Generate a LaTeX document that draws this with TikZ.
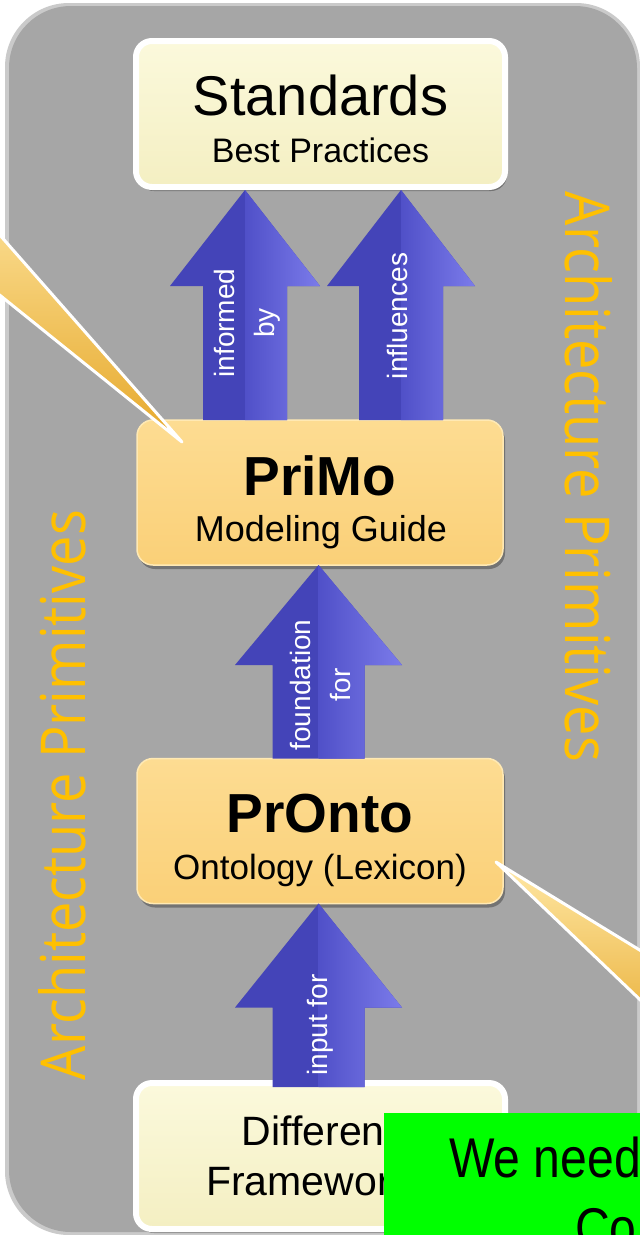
\documentclass[tikz,border=0pt]{standalone}
\usepackage{fontspec}
\usepackage{graphicx}
\newfontfamily\arial{Liberation Sans}
\newfontfamily\osans{Open Sans}
\newfontfamily\narrow[FakeStretch=0.86]{Liberation Sans}
\usetikzlibrary{calc,shadows}

\definecolor{panel}{HTML}{A6A6A6}
\definecolor{papertop}{HTML}{FBF9DC}
\definecolor{paperbot}{HTML}{F4EFC2}
\definecolor{goldtop}{HTML}{FDDC92}
\definecolor{goldbot}{HTML}{FAD078}
\definecolor{goldrim}{HTML}{FFE9B4}
\definecolor{bluebody}{HTML}{4444B8}
\definecolor{bluemid}{HTML}{5050C8}
\definecolor{bluelight}{HTML}{7B7BEA}
\definecolor{orangetext}{HTML}{FFC000}
\definecolor{wedgedark}{HTML}{E6A82A}
\definecolor{wedgelight}{HTML}{FFE8A6}
\definecolor{notegreen}{HTML}{00FF00}

% block arrow standing on node #1 and pointing at node #2
% #3 centre x, #4 half head width, #5 half shaft width, #6 head length, #7 overlap into #1
\newcommand\bluearrow[7]{%
  \fill[bluebody] let \p1=(#1.north), \p2=(#2.south) in
    ({#3pt-#5pt},{\y1-#7pt}) -- ({#3pt-#5pt},{\y2-#6pt}) -- ({#3pt-#4pt},{\y2-#6pt})
    -- ({#3pt},{\y2}) -- ({#3pt+#4pt},{\y2-#6pt}) -- ({#3pt+#5pt},{\y2-#6pt})
    -- ({#3pt+#5pt},{\y1-#7pt}) -- cycle;
  \shade[left color=bluemid, right color=bluelight] let \p1=(#1.north), \p2=(#2.south) in
    ({#3pt},{\y2}) -- ({#3pt+#4pt},{\y2-#6pt}) -- ({#3pt+#5pt},{\y2-#6pt})
    -- ({#3pt+#5pt},{\y1-#7pt}) -- ({#3pt},{\y1-#7pt}) -- cycle;
}

\tikzset{
  paperbox/.style={draw=white, line width=6pt, rounded corners=16pt,
    top color=papertop, bottom color=paperbot,
    minimum width=369pt, minimum height=146pt, outer sep=3pt, inner sep=0pt,
    drop shadow={shadow xshift=2pt, shadow yshift=-4pt, opacity=0.3, fill=black}},
  goldbox/.style={rounded corners=16pt, top color=goldtop, bottom color=goldbot,
    draw=goldrim, line width=1.5pt,
    minimum width=366pt, minimum height=145pt, outer sep=0pt, inner sep=0pt,
    drop shadow={shadow xshift=2pt, shadow yshift=-4pt, opacity=0.3, fill=black}},
  bigtitle/.style={anchor=base, inner sep=0pt, font=\arial\fontsize{56}{60}\selectfont},
  boldtitle/.style={anchor=base, inner sep=0pt, font=\arial\bfseries\fontsize{55}{60}\selectfont},
  subtitle/.style={anchor=base, inner sep=0pt, font=\arial\fontsize{#1}{#1}\selectfont},
  arrowlabel/.style={rotate=90, text=white, align=center, inner sep=0pt,
    font=\arial\fontsize{28}{40}\selectfont},
  sidetext/.style={text=orangetext, inner sep=0pt, font=\osans},
  wedge/.style={draw=white, line width=3pt, line join=round,
    top color=wedgelight, bottom color=wedgedark},
  notebox/.style={fill=notegreen, inner sep=0pt, anchor=north west,
    minimum width=300pt, minimum height=140pt},
  notetext/.style={anchor=base west, inner sep=0pt, font=\narrow\fontsize{56}{60}\selectfont}
}

\begin{document}
\begin{tikzpicture}[x=1pt, y=-1pt]
\useasboundingbox (0,0) rectangle (640,1235);
\clip (0,0) rectangle (640,1235);
\fill[white] (0,0) rectangle (640,1235);

% grey panel with a soft rim
\fill[panel!60, rounded corners=64pt] (5,3) rectangle (640,1235);
\fill[panel, rounded corners=62pt] (9,6) rectangle (637,1232);

% boxes
\node[paperbox] (std)    at (320.5,114)  {};
\node[goldbox]  (primo)  at (320,492.5)  {};
\node[goldbox]  (pronto) at (320,831)    {};
\node[paperbox] (diff)   at (320.5,1156) {};

% box texts
\node[bigtitle]      (stdA) at (320.5,115) {Standards};
\node[subtitle=34]   (stdB) at (320.5,162) {Best Practices};
\node[boldtitle]     (priA) at (320,495)   {PriMo};
\node[subtitle=36]   (priB) at (321,541)   {Modeling Guide};
\node[boldtitle]     (proA) at (320,832)   {PrOnto};
\node[subtitle=35]   (proB) at (320,879)   {Ontology (Lexicon)};
\node[subtitle=41]   (difA) at (319,1145)  {Different};
\node[subtitle=41]   (difB) at (319,1195)  {Frameworks};

% block arrows
\bluearrow{primo}{std}{245}{75}{42}{96}{0}
\bluearrow{primo}{std}{401}{74}{42}{96}{0}
\bluearrow{pronto}{primo}{318.5}{83.5}{46}{100}{0}
\bluearrow{diff}{pronto}{318.5}{83.5}{46}{104}{7}

\node[arrowlabel] (lblA) at (247,323)  {informed\\by};
\node[arrowlabel] (lblB) at (397,316)  {influences};
\node[arrowlabel] (lblC) at (320.5,685) {foundation\\for};
\node[arrowlabel] (lblD) at (320,1025) {input for};

% side captions
\node[sidetext, rotate=90]  (sideL) at (62.5,795) {\resizebox{570pt}{47pt}{Architecture Primitives}};
\node[sidetext, rotate=-90] (sideR) at (588.5,477) {\resizebox{570pt}{47pt}{Architecture Primitives}};

% callout pointers
\coordinate (ptrA) at (182,442);
\coordinate (ptrB) at (496,862);
\filldraw[wedge] (ptrA) -- (-60,247) -- (-60,167) -- cycle;
\filldraw[wedge] (ptrB) -- (700,987) -- (700,1057) -- cycle;

% note
\node[notebox] (note) at (384,1113) {};
\node[notetext] (noteA) at (449,1177) {We need};
\node[notetext] (noteB) at (575,1247) {Co};
\end{tikzpicture}
\end{document}
